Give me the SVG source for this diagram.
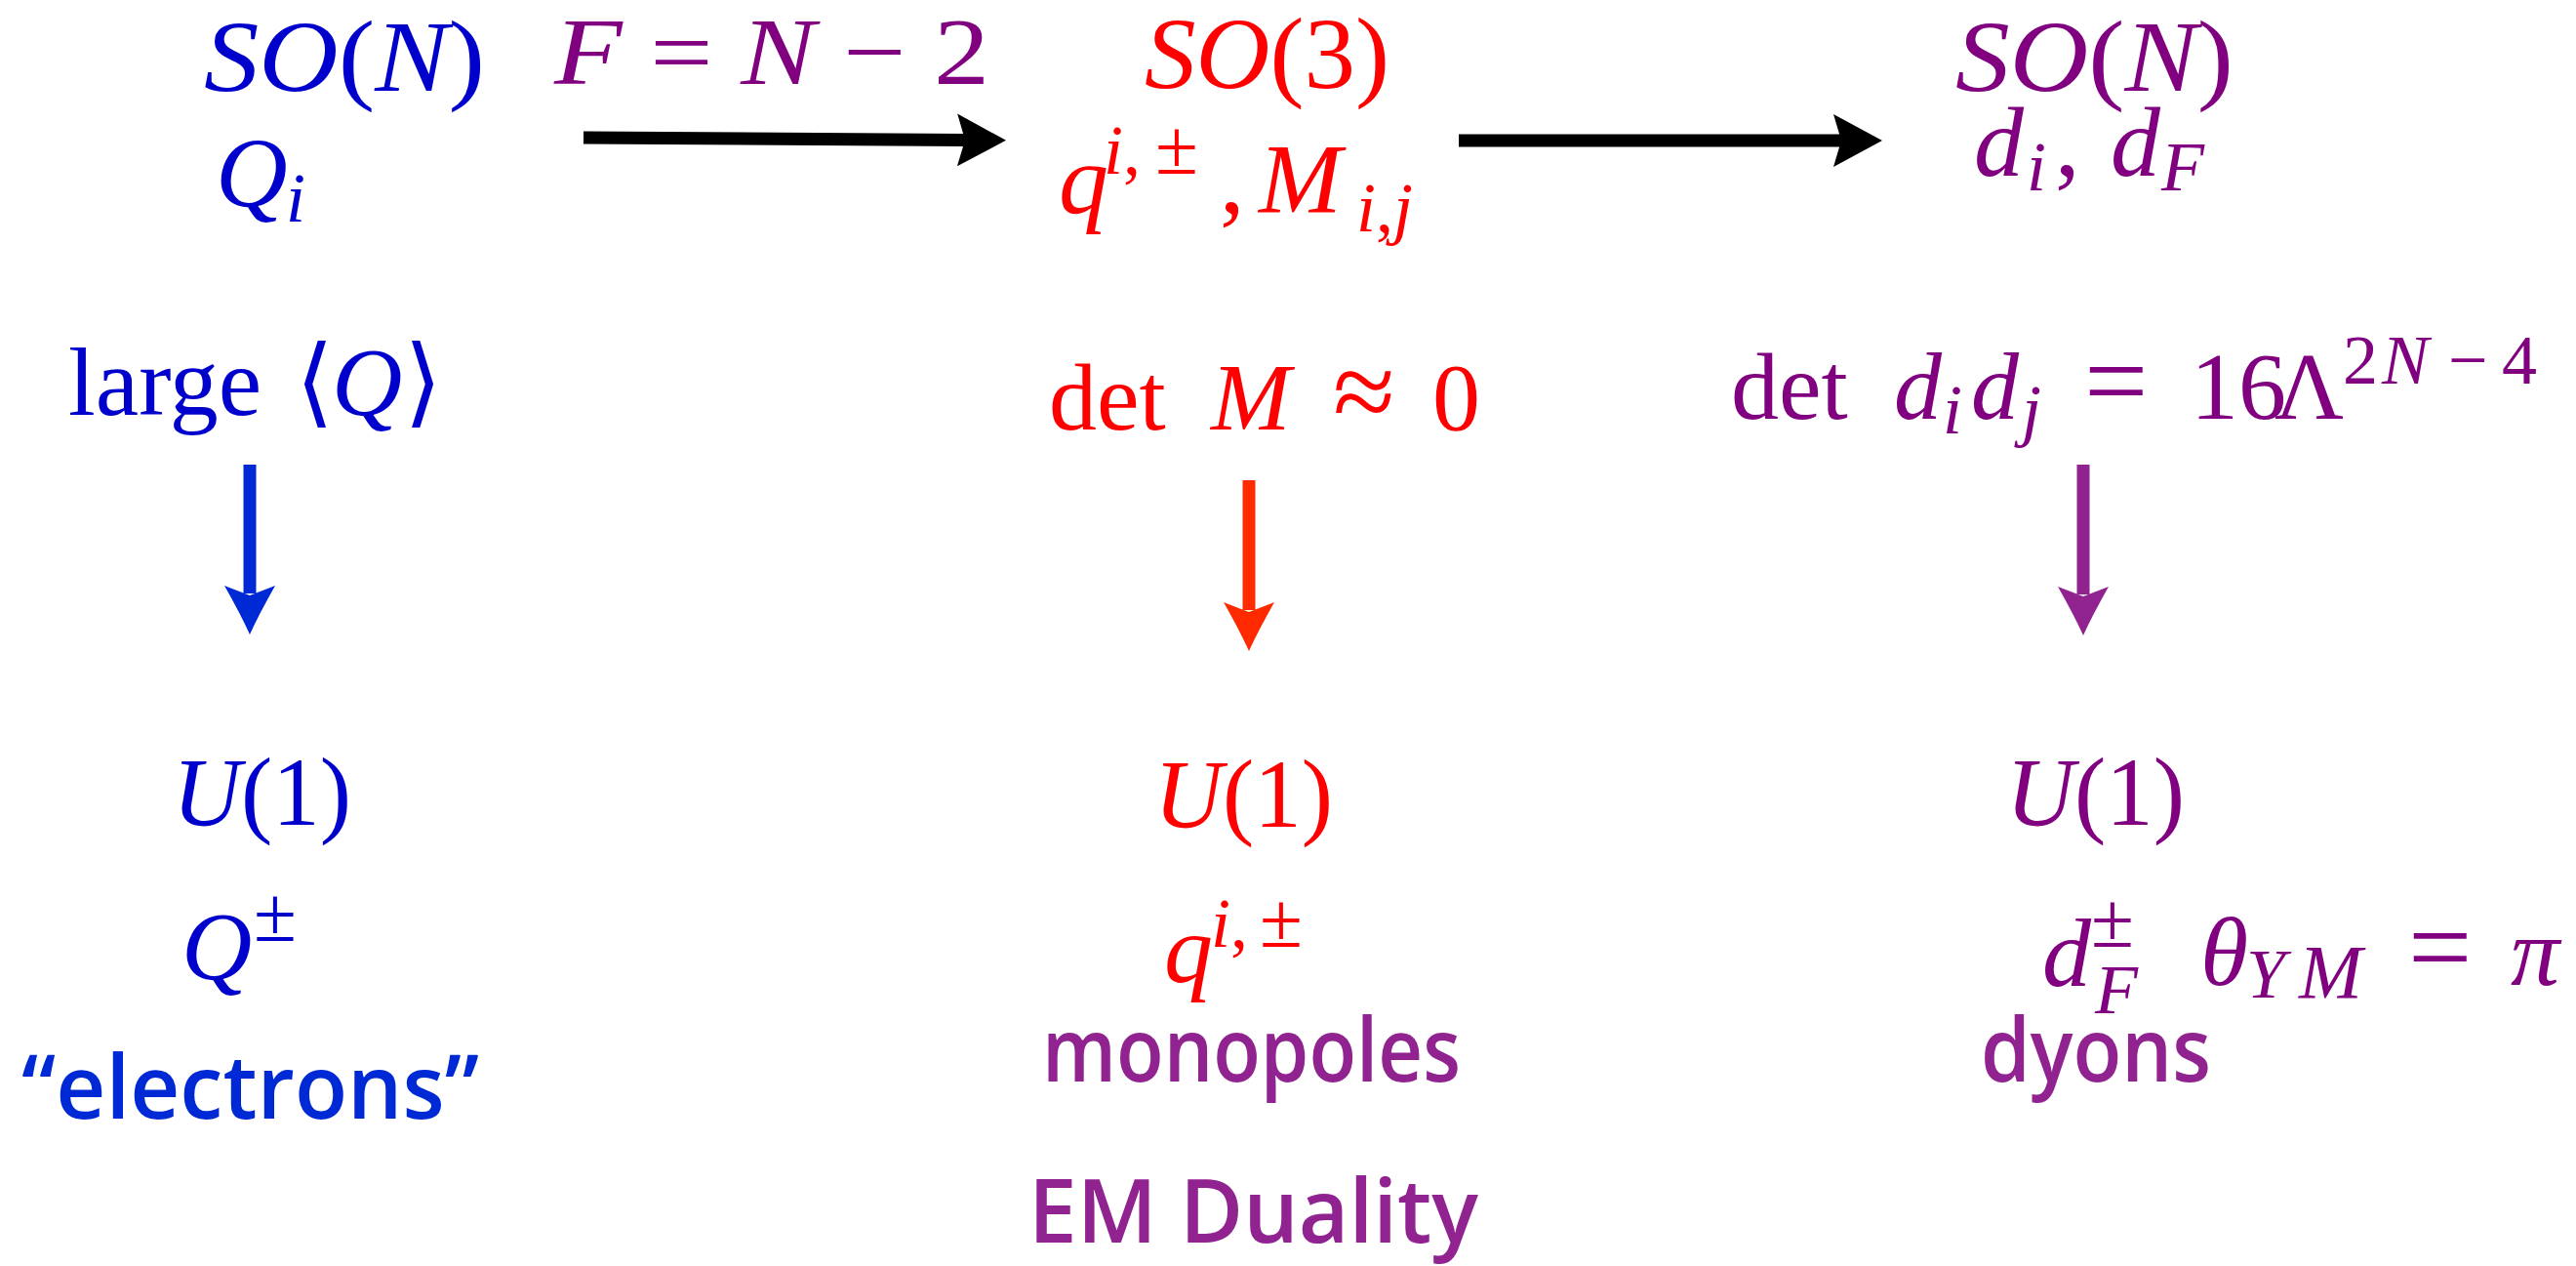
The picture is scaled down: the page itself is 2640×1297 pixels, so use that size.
<svg xmlns="http://www.w3.org/2000/svg" width="2640" height="1297" viewBox="0 0 2640 1297">
<style>
.m{font-family:"Liberation Serif","Times New Roman",serif}
.i{font-style:italic}
.s{font-size:72px}
.pm{font-size:80px}
.op{font-size:116px}
.ang{font-family:"DejaVu Sans","DejaVu Serif",sans-serif;font-size:100px}
.c{font-family:"Comic Sans MS","Open Sans",sans-serif;font-weight:600;font-size:90px}
.tb{fill:#0000cc}.tr{fill:#ff0000}.tp{fill:#800080}
.cb{fill:#0029d6}.cp{fill:#912391}
.conn{fill:none;stroke-width:13}
</style>
<defs>
<marker id="hk" viewBox="0 0 50 54" refX="8" refY="27" markerWidth="50" markerHeight="54" markerUnits="userSpaceOnUse" orient="auto"><path d="M0,0 L50,27 L0,54 L8,27 Z" fill="#000000"/></marker>
<marker id="hb" viewBox="0 0 50 54" refX="8" refY="27" markerWidth="50" markerHeight="54" markerUnits="userSpaceOnUse" orient="auto"><path d="M0,1 Q30,18 50,27 Q30,36 0,53 L10,27 Z" fill="#0029d6"/></marker>
<marker id="hr" viewBox="0 0 50 54" refX="8" refY="27" markerWidth="50" markerHeight="54" markerUnits="userSpaceOnUse" orient="auto"><path d="M0,1 Q30,18 50,27 Q30,36 0,53 L10,27 Z" fill="#ff2a00"/></marker>
<marker id="hp" viewBox="0 0 50 54" refX="8" refY="27" markerWidth="50" markerHeight="54" markerUnits="userSpaceOnUse" orient="auto"><path d="M0,1 Q30,18 50,27 Q30,36 0,53 L10,27 Z" fill="#912391"/></marker>
</defs>
<rect width="2640" height="1297" fill="#ffffff"/>

<g id="connectors">
<line class="conn" x1="598" y1="141" x2="989" y2="143.5" stroke="#000000" marker-end="url(#hk)"/>
<line class="conn" x1="1495" y1="144" x2="1887" y2="144" stroke="#000000" marker-end="url(#hk)"/>
<line class="conn" x1="256" y1="476" x2="256" y2="608" stroke="#0029d6" marker-end="url(#hb)"/>
<line class="conn" x1="1280" y1="492" x2="1280" y2="625" stroke="#ff2a00" marker-end="url(#hr)"/>
<line class="conn" x1="2135" y1="476" x2="2135" y2="609" stroke="#912391" marker-end="url(#hp)"/>
</g>

<g id="label-flavors">
<text class="m tp" font-size="98" x="568" y="86" textLength="446" lengthAdjust="spacingAndGlyphs"><tspan class="i">F</tspan> = <tspan class="i">N</tspan> − 2</text>
</g>

<g id="node-son-electric">
<text class="m tb" font-size="104" x="209" y="93" textLength="288" lengthAdjust="spacingAndGlyphs"><tspan class="i">SO</tspan>(<tspan class="i">N</tspan>)</text>
<text class="m tb" font-size="102"><tspan class="i" x="221" y="212">Q</tspan><tspan class="i s" x="293" y="227">i</tspan></text>
</g>

<g id="node-so3">
<text class="m tr" font-size="104" x="1173" y="90" textLength="251" lengthAdjust="spacingAndGlyphs"><tspan class="i">SO</tspan>(3)</text>
<text class="m tr" font-size="102"><tspan class="i" x="1085" y="218">q</tspan><tspan class="i s" x="1131" y="178">i</tspan><tspan class="s">,</tspan><tspan class="pm" x="1184" y="178">±</tspan><tspan x="1250" y="218">,</tspan><tspan class="i" x="1290" y="218">M</tspan><tspan class="i s" x="1390" y="237">i</tspan><tspan class="s">,</tspan><tspan class="i s">j</tspan></text>
</g>

<g id="node-son-dual">
<text class="m tp" font-size="104" x="2004" y="93" textLength="285" lengthAdjust="spacingAndGlyphs"><tspan class="i">SO</tspan>(<tspan class="i">N</tspan>)</text>
<text class="m tp" font-size="102"><tspan class="i" x="2023" y="180">d</tspan><tspan class="i s" x="2077" y="195">i</tspan><tspan x="2106" y="180">,</tspan><tspan class="i" x="2163" y="180">d</tspan><tspan class="i s" x="2215" y="195">F</tspan></text>
</g>

<g id="cond-large-q">
<text class="m tb" font-size="100"><tspan x="70" y="425">large</tspan><tspan class="ang" x="303">⟨</tspan><tspan class="i" x="340">Q</tspan><tspan class="ang" x="414">⟩</tspan></text>
</g>

<g id="cond-det-m">
<text class="m tr" font-size="98"><tspan x="1075" y="440">det</tspan><tspan class="i" x="1241">M</tspan><tspan class="op" x="1366">≈</tspan><tspan x="1468">0</tspan></text>
</g>

<g id="cond-det-d">
<text class="m tp" font-size="98"><tspan x="1774" y="429">det</tspan><tspan class="i" x="1941">d</tspan><tspan class="i s" x="1991" y="444">i</tspan><tspan class="i" x="2020" y="429">d</tspan><tspan class="i s" x="2072" y="444">j</tspan><tspan class="op" x="2136" y="429">=</tspan><tspan x="2245">16</tspan><tspan x="2331">Λ</tspan><tspan class="s" x="2401" y="393">2</tspan><tspan class="i s" x="2441">N</tspan><tspan class="s" x="2509">−</tspan><tspan class="s" x="2564">4</tspan></text>
</g>

<g id="node-u1-electrons">
<text class="m tb" font-size="100" x="177" y="845" textLength="183" lengthAdjust="spacingAndGlyphs"><tspan class="i">U</tspan>(1)</text>
<text class="m tb" font-size="100"><tspan class="i" x="186" y="1003">Q</tspan><tspan class="pm" x="260" y="964">±</tspan></text>
<text class="c cb" x="22" y="1146" textLength="469" lengthAdjust="spacingAndGlyphs">“electrons”</text>
</g>

<g id="node-u1-monopoles">
<text class="m tr" font-size="100" x="1183" y="847" textLength="183" lengthAdjust="spacingAndGlyphs"><tspan class="i">U</tspan>(1)</text>
<text class="m tr" font-size="100"><tspan class="i" x="1193" y="1006">q</tspan><tspan class="i s" x="1241" y="970">i</tspan><tspan class="s">,</tspan><tspan class="pm" x="1291" y="970">±</tspan></text>
<text class="c cp" x="1068" y="1108" textLength="429" lengthAdjust="spacingAndGlyphs">monopoles</text>
<text class="c cp" x="1054" y="1273" textLength="461" lengthAdjust="spacingAndGlyphs">EM Duality</text>
</g>

<g id="node-u1-dyons">
<text class="m tp" font-size="100" x="2056" y="845" textLength="183" lengthAdjust="spacingAndGlyphs"><tspan class="i">U</tspan>(1)</text>
<text class="m tp" font-size="100"><tspan class="i" x="2093" y="1010">d</tspan><tspan class="pm" x="2143" y="970">±</tspan><tspan class="i s" x="2147" y="1038">F</tspan><tspan class="i" x="2255" y="1009">θ</tspan><tspan class="i s" x="2302" y="1022">Y</tspan><tspan class="i" style="font-size:78px" x="2356" y="1022">M</tspan><tspan class="op" x="2468" y="1009">=</tspan><tspan class="i" x="2573">π</tspan></text>
<text class="c cp" x="2030" y="1108" textLength="236" lengthAdjust="spacingAndGlyphs">dyons</text>
</g>
</svg>
